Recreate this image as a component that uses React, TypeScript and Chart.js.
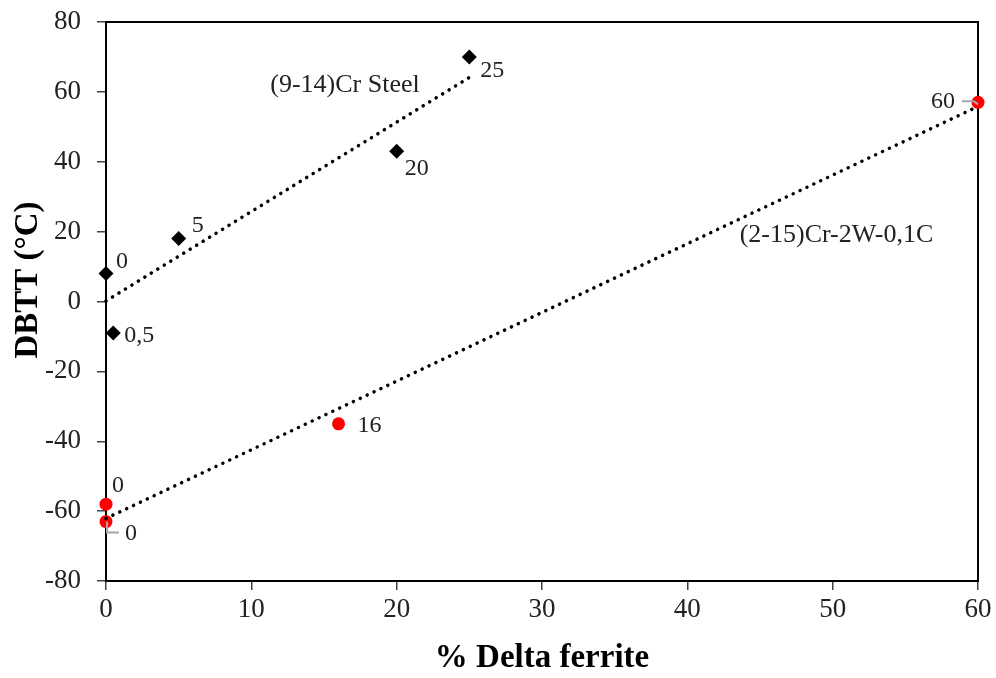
import React, { useEffect, useRef } from "react";
import { Chart, registerables } from "chart.js";

Chart.register(...registerables);

// ---- Data ----
const crSteelX = [0, 0.5, 5, 20, 25];
const crSteelY = [8, -9, 18, 43, 70];
const crSteelLabels = ["0", "0,5", "5", "20", "25"];

const crWX = [0, 0, 16, 60];
const crWY = [-58, -63, -35, 57];
const crWLabels = ["0", "0", "16", "60"];

const xTicks = [0, 10, 20, 30, 40, 50, 60];
const yTicks = [-80, -60, -40, -20, 0, 20, 40, 60, 80];

const seriesNames = ["(9-14)Cr Steel", "(2-15)Cr-2W-0,1C"];
const xTitle = "% Delta ferrite";
const yTitle = "DBTT (°C)";

// label placements (pixel offsets from point), style only
const crSteelLabelOffsets = [
  [10, -12, "left"],
  [11, 3, "left"],
  [13, -13, "left"],
  [8, 17, "left"],
  [11, 14, "left"],
];
const crWLabelOffsets = [
  [6, -18, "left"],
  [19, 12, "left"],
  [19, 2, "left"],
  [-23, -1, "right"],
];

function regression(xs: number[], ys: number[]) {
  const n = xs.length;
  const mx = xs.reduce((a, b) => a + b, 0) / n;
  const my = ys.reduce((a, b) => a + b, 0) / n;
  let sxx = 0, sxy = 0;
  for (let i = 0; i < n; i++) {
    sxx += (xs[i] - mx) ** 2;
    sxy += (xs[i] - mx) * (ys[i] - my);
  }
  const slope = sxy / sxx;
  const icpt = my - slope * mx;
  const x0 = Math.min(...xs);
  const x1 = Math.max(...xs);
  return [
    { x: x0, y: icpt + slope * x0 },
    { x: x1, y: icpt + slope * x1 },
  ];
}

const FONT = "'Liberation Serif', 'DejaVu Serif', serif";

export default function App() {
  const ref = useRef<HTMLCanvasElement | null>(null);

  useEffect(() => {
    document.body.style.margin = "0";
    const canvas = ref.current;
    if (!canvas) return;

    const overlay = {
      id: "overlay",
      beforeDatasetsDraw(chart: any) {
        const { ctx, chartArea } = chart;
        ctx.save();
        ctx.strokeStyle = "#000";
        ctx.lineWidth = 2;
        ctx.strokeRect(chartArea.left, chartArea.top, chartArea.right - chartArea.left, chartArea.bottom - chartArea.top);
        ctx.restore();
      },
      afterDraw(chart: any) {
        const { ctx, scales } = chart;
        const xs = scales.x;
        const ys = scales.y;
        ctx.save();

        ctx.font = `24px ${FONT}`;
        ctx.fillStyle = "#222";
        ctx.textBaseline = "middle";
        crSteelX.forEach((x, i) => {
          const px = xs.getPixelForValue(x);
          const py = ys.getPixelForValue(crSteelY[i]);
          const [dx, dy, al] = crSteelLabelOffsets[i] as any;
          ctx.textAlign = al;
          ctx.fillText(crSteelLabels[i], px + dx, py + dy);
        });
        crWX.forEach((x, i) => {
          const px = xs.getPixelForValue(x);
          const py = ys.getPixelForValue(crWY[i]);
          const [dx, dy, al] = crWLabelOffsets[i] as any;
          ctx.textAlign = al;
          ctx.fillText(crWLabels[i], px + dx, py + dy);
        });

        // leader lines
        ctx.strokeStyle = "#a6a6a6";
        ctx.lineWidth = 2;
        {
          const px = xs.getPixelForValue(crWX[1]);
          const py = ys.getPixelForValue(crWY[1]);
          ctx.beginPath();
          ctx.moveTo(px + 1, py);
          ctx.lineTo(px + 1, py + 11);
          ctx.lineTo(px + 13, py + 11);
          ctx.stroke();
        }
        {
          const px = xs.getPixelForValue(crWX[3]);
          const py = ys.getPixelForValue(crWY[3]);
          ctx.beginPath();
          ctx.moveTo(px - 16, py - 1);
          ctx.lineTo(px - 4, py - 1);
          ctx.lineTo(px, py + 2);
          ctx.stroke();
        }

        // series annotations
        ctx.font = `26px ${FONT}`;
        ctx.fillStyle = "#222";
        ctx.textAlign = "left";
        ctx.fillText(seriesNames[0], xs.getPixelForValue(11.3), ys.getPixelForValue(62));
        ctx.fillText(seriesNames[1], xs.getPixelForValue(43.6), ys.getPixelForValue(19));

        // y title
        ctx.font = `bold 33px ${FONT}`;
        ctx.fillStyle = "#000";
        ctx.textAlign = "center";
        ctx.translate(28, 280);
        ctx.rotate(-Math.PI / 2);
        ctx.fillText(yTitle, 0, 0);
        ctx.restore();
      },
    };

    const chart = new Chart(canvas, {
      type: "scatter",
      data: {
        datasets: [
          {
            type: "line",
            data: regression(crSteelX, crSteelY),
            borderColor: "#000",
            borderWidth: 3.5,
            borderDash: [0.1, 7.5],
            borderCapStyle: "round",
            pointRadius: 0,
            fill: false,
            clip: false,
          },
          {
            type: "line",
            data: regression(crWX, crWY),
            borderColor: "#000",
            borderWidth: 3.5,
            borderDash: [0.1, 7.5],
            borderCapStyle: "round",
            pointRadius: 0,
            fill: false,
            clip: false,
          },
          {
            data: crSteelX.map((x, i) => ({ x, y: crSteelY[i] })),
            pointStyle: "rectRot",
            pointRadius: 7.5,
            backgroundColor: "#000",
            borderColor: "#000",
            borderWidth: 0,
            clip: false,
          },
          {
            data: crWX.map((x, i) => ({ x, y: crWY[i] })),
            pointStyle: "circle",
            pointRadius: 6.5,
            backgroundColor: "#ff0000",
            borderColor: "#ff0000",
            borderWidth: 0,
            clip: false,
          },
        ] as any,
      },
      options: {
        animation: false,
        responsive: false,
        events: [],
        layout: { padding: { left: 0, top: 22, right: 18, bottom: 0 } },
        plugins: { legend: { display: false }, tooltip: { enabled: false } },
        scales: {
          x: {
            type: "linear",
            min: 0,
            max: 60,
            afterBuildTicks: (s: any) => { s.ticks = xTicks.map((v) => ({ value: v })); },
            afterFit: (s: any) => { s.height = 97; s.paddingLeft = 0; s.paddingRight = 0; },
            ticks: { font: { family: FONT, size: 27 }, color: "#222", padding: 4 },
            grid: { drawOnChartArea: false, drawTicks: true, tickLength: 9, color: "#444", lineWidth: 1.5 },
            border: { color: "#000", width: 2 },
            title: { display: true, text: xTitle, font: { family: FONT, size: 33, weight: "bold" }, color: "#000", padding: { top: 0, bottom: 0 } },
          },
          y: {
            type: "linear",
            min: -80,
            max: 80,
            afterBuildTicks: (s: any) => { s.ticks = yTicks.map((v) => ({ value: v })); },
            afterFit: (s: any) => { s.width = 106; s.paddingTop = 0; s.paddingBottom = 0; },
            ticks: { font: { family: FONT, size: 27 }, color: "#222", padding: 16 },
            grid: { drawOnChartArea: false, drawTicks: true, tickLength: 9, color: "#444", lineWidth: 1.5 },
            border: { color: "#000", width: 2 },
          },
        },
      } as any,
      plugins: [overlay],
    });
    return () => chart.destroy();
  }, []);

  return <canvas ref={ref} width={996} height={678} style={{ display: "block" }} />;
}
